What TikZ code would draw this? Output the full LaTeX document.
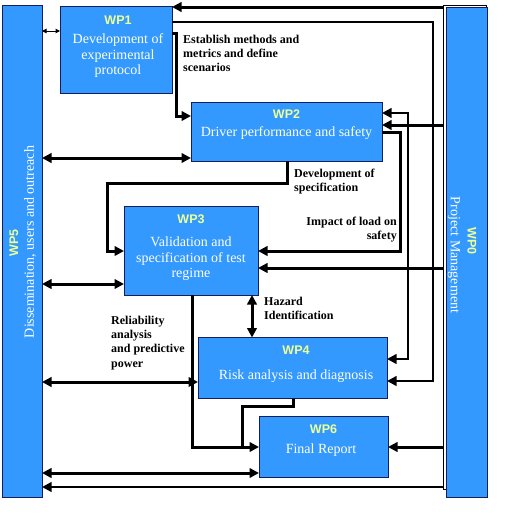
\documentclass[tikz,border=0pt]{standalone}
\usepackage{fontspec}
\setmainfont{Liberation Serif}
\newfontfamily\arialf{Liberation Sans}
\usetikzlibrary{arrows.meta}
\definecolor{wpblue}{RGB}{51,153,255}
\definecolor{wpyellow}{RGB}{238,255,150}
\definecolor{wpedge}{RGB}{20,30,90}
\tikzset{
  box/.style={draw=wpedge, line width=0.7pt, fill=wpblue, inner sep=0pt, outer sep=0pt},
  wptitle/.style={font=\arialf\bfseries\fontsize{12.5}{14}\selectfont, text=wpyellow, inner sep=0pt},
  wptext/.style={font=\fontsize{14}{15.5}\selectfont, text=white, align=center, inner sep=0pt},
  lbl/.style={font=\bfseries\fontsize{12}{14.2}\selectfont, inner sep=0pt},
  conn/.style={line width=3pt, -{Triangle[length=9.5pt,width=9.5pt]}},
  dconn/.style={line width=3pt, {Triangle[length=9.5pt,width=9.5pt]}-{Triangle[length=9.5pt,width=9.5pt]}},
  plain/.style={line width=3pt},
}
\begin{document}
\begin{tikzpicture}[x=1pt,y=-1pt]
\useasboundingbox (0,0) rectangle (512,517);
% side bars
\node[box, minimum width=40pt, minimum height=492pt] (wp5) at (22,251) {};
\node[draw=black, line width=0.7pt, fill=white, inner sep=0pt, outer sep=0pt, minimum width=43pt, minimum height=484pt] (wp0f) at (464.5,247) {};
\node[box, minimum width=41pt, minimum height=490pt] (wp0) at (466.5,252) {};
\node[wptitle, rotate=90] (t5a) at (14,243) {WP5};
\node[wptext, rotate=90] (t5b) at (30,242) {Dissemination, users and outreach};
\node[wptitle, rotate=-90] (t0a) at (472,241) {WP0};
\node[wptext, rotate=-90] (t0b) at (454,255) {Project Management};
% work packages
\node[box, minimum width=112pt, minimum height=87pt] (wp1) at (116,49.5) {};
\node[box, minimum width=191pt, minimum height=59pt] (wp2) at (286.5,131.5) {};
\node[box, minimum width=134pt, minimum height=89pt] (wp3) at (191,250.5) {};
\node[box, minimum width=189pt, minimum height=61pt] (wp4) at (292.5,368) {};
\node[box, minimum width=129pt, minimum height=61pt] (wp6) at (323.5,447) {};
\node[wptitle] (t1a) at (118,20) {WP1};
\node[wptext] (t1b) at (118,56) {Development of\\experimental\\protocol};
\node[wptitle] (t2a) at (286.5,114) {WP2};
\node[wptext] (t2b) at (286.5,133) {Driver performance and safety};
\node[wptitle] (t3a) at (191,219) {WP3};
\node[wptext] (t3b) at (191,259) {Validation and\\specification of test\\regime};
\node[wptitle] (t4a) at (296,350) {WP4};
\node[wptext] (t4b) at (296,376) {Risk analysis and diagnosis};
\node[wptitle] (t6a) at (323.5,429) {WP6};
\node[wptext] (t6b) at (321,450) {Final Report};
% labels
\node[lbl, align=left, anchor=north west] (l1) at (183,35) {Establish methods and\\metrics and define\\scenarios};
\node[lbl, align=left, anchor=north west] (l2) at (294,169) {Development of\\specification};
\node[lbl, align=right, anchor=north east] (l3) at (397,217) {Impact of load on\\safety};
\node[lbl, align=left, anchor=north west] (l4) at (264,297) {Hazard\\Identification};
\node[lbl, align=left, anchor=north west] (l5) at (111,316) {Reliability\\analysis\\and predictive\\power};
% connectors
\draw[line width=1pt, {Triangle[length=4.5pt,width=4.5pt]}-{Triangle[length=4.5pt,width=4.5pt]}] (wp5.east |- 0,31) -- (wp1.west |- 0,31);
\draw[conn] (wp0f.west |- 0,7) -- (wp1.east |- 0,7);
\draw[conn, line width=2.6pt] (wp1.east |- 0,22) -| (433,381) -- (wp4.east |- 0,381);
\draw[conn] (wp1.east |- 0,33) -- (176,33) |- (wp2.west |- 0,116);
\draw[dconn, line width=2.6pt] (wp2.east |- 0,113) -| (408,359) -- (wp4.east |- 0,359);
\draw[conn] (wp0f.west |- 0,125) -- (wp2.east |- 0,125);
\draw[conn] (wp2.east |- 0,132) -| (400,251) -- (wp3.east |- 0,251);
\draw[conn] (wp2.south -| 287,0) -- (287,183) -| (107,251) -- (wp3.west |- 0,251);
\draw[conn] (wp0f.west |- 0,268) -- (wp3.east |- 0,268);
\draw[dconn] (wp5.east |- 0,158) -- (wp2.west |- 0,158);
\draw[dconn] (wp5.east |- 0,284) -- (wp3.west |- 0,284);
\draw[dconn] (wp3.south -| 252,0) -- (wp4.north -| 252,0);
\draw[dconn] (wp5.east |- 0,382) -- (wp4.west |- 0,382);
\draw[conn] (wp3.south -| 192,0) |- (wp6.west |- 0,447);
\draw[plain] (wp4.south -| 293,0) -- (293,406) -| (242,447);
\draw[dconn] (wp5.east |- 0,473) -- (wp6.west |- 0,473);
\draw[conn] (wp0f.west |- 0,447) -- (wp6.east |- 0,447);
\draw[conn, line width=2.2pt] (wp0f.west |- 0,487) -- (wp5.east |- 0,487);
\end{tikzpicture}
\end{document}
